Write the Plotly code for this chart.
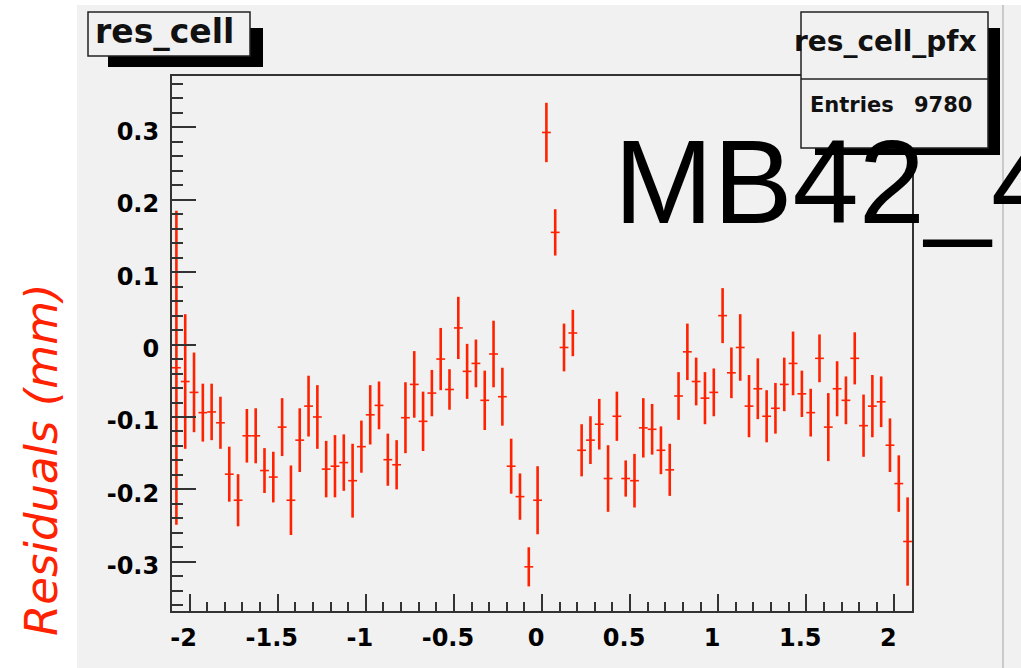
import plotly.graph_objects as go

# ---------------- data ----------------
x_low = -2.1
bin_width = 0.05
n_bins = 84
x_centers = [round(x_low + bin_width * (i + 0.5), 4) for i in range(n_bins)]

residuals = [
    -0.032, -0.051, -0.066, -0.094, -0.093, -0.108, -0.179, -0.215, -0.126, -0.126,
    -0.174, -0.183, -0.114, -0.215, -0.132, -0.085, -0.100, -0.172, -0.168, -0.163,
    -0.188, -0.141, -0.097, -0.084, -0.159, -0.166, -0.101, -0.055, -0.106, -0.067,
    -0.020, -0.062, 0.023, -0.037, -0.026, -0.077, -0.013, -0.072, -0.168, -0.210,
    -0.307, -0.215, 0.293, 0.155, -0.004, 0.016, -0.146, -0.132, -0.110, -0.185,
    -0.099, -0.185, -0.188, -0.115, -0.117, -0.146, -0.173, -0.071, -0.010, -0.051,
    -0.074, -0.066, 0.040, -0.039, -0.004, -0.085, -0.061, -0.099, -0.088, -0.055,
    -0.026, -0.068, -0.094, -0.019, -0.114, -0.061, -0.077, -0.019, -0.112, -0.085,
    -0.079, -0.139, -0.192, -0.272,
]

errors = [
    0.217, 0.093, 0.055, 0.040, 0.039, 0.036, 0.038, 0.036, 0.037, 0.038,
    0.031, 0.035, 0.040, 0.048, 0.044, 0.042, 0.044, 0.039, 0.043, 0.039,
    0.051, 0.036, 0.041, 0.033, 0.036, 0.034, 0.049, 0.046, 0.041, 0.032,
    0.043, 0.028, 0.043, 0.038, 0.033, 0.041, 0.046, 0.040, 0.038, 0.032,
    0.027, 0.047, 0.041, 0.032, 0.033, 0.032, 0.036, 0.033, 0.035, 0.046,
    0.034, 0.025, 0.037, 0.041, 0.035, 0.033, 0.036, 0.033, 0.039, 0.033,
    0.036, 0.033, 0.038, 0.035, 0.046, 0.043, 0.042, 0.036, 0.035, 0.037,
    0.044, 0.032, 0.033, 0.033, 0.047, 0.038, 0.033, 0.036, 0.043, 0.043,
    0.035, 0.037, 0.039, 0.061,
]

x_tick_vals = [-2, -1.5, -1, -0.5, 0, 0.5, 1, 1.5, 2]
x_tick_text = ["-2", "-1.5", "-1", "-0.5", "0", "0.5", "1", "1.5", "2"]
y_tick_vals = [-0.3, -0.2, -0.1, 0, 0.1, 0.2, 0.3]
y_tick_text = ["-0.3", "-0.2", "-0.1", "0", "0.1", "0.2", "0.3"]

hist_title = "res_cell"
stats_title = "res_cell_pfx"
entries_label = "Entries"
entries_value = "9780"
chamber_label = "MB42_4"
y_label = "Residuals (mm)"

# ---------------- layout helpers ----------------
W, H = 1021, 668
ML, MR, MT, MB = 172, 109, 76, 57
PW, PH = W - ML - MR, H - MT - MB


def px(x):
    return (x - ML) / PW


def py(y):
    return 1 - (y - MT) / PH


RED = "#ff2200"
CANVAS = "#f1f1f1"
AX = "#333333"

fig = go.Figure()
fig.add_trace(go.Scatter(
    x=x_centers, y=residuals, mode="markers",
    marker=dict(size=1, color=RED),
    error_y=dict(type="data", array=errors, visible=True, color=RED,
                 thickness=2.6, width=0),
    error_x=dict(type="constant", value=bin_width / 2, visible=True, color=RED,
                 thickness=1.6, width=0),
    showlegend=False, hoverinfo="skip",
))

tickfont = dict(family="DejaVu Sans", size=24, color="black", weight="bold")

fig.update_xaxes(
    range=[-2.1, 2.1], tickmode="array", tickvals=x_tick_vals, ticktext=x_tick_text,
    ticks="inside", ticklen=17, tickwidth=1.5, tickcolor=AX,
    minor=dict(tickmode="linear", tick0=0, dtick=0.1, ticks="inside",
               ticklen=9, tickwidth=1.5, tickcolor=AX),
    showline=True, linecolor=AX, linewidth=2, mirror=True,
    showgrid=False, zeroline=False, tickfont=tickfont,
    ticklabelshift=-6, ticklabelstandoff=4,
)
fig.update_yaxes(
    range=[-0.368, 0.371], tickmode="array", tickvals=y_tick_vals, ticktext=y_tick_text,
    ticks="inside", ticklen=24, tickwidth=1.5, tickcolor=AX,
    minor=dict(tickmode="linear", tick0=0, dtick=0.02, ticks="inside",
               ticklen=11, tickwidth=1.5, tickcolor=AX),
    showline=True, linecolor=AX, linewidth=2, mirror=True,
    showgrid=False, zeroline=False, tickfont=tickfont,
    ticklabelshift=4, ticklabelstandoff=6,
)

shapes = [
    # canvas background
    dict(type="rect", xref="paper", yref="paper", x0=px(77), x1=px(1021),
         y0=py(5), y1=py(668), fillcolor=CANVAS, line=dict(width=0), layer="below"),
    dict(type="line", xref="paper", yref="paper", x0=px(1003), x1=px(1003),
         y0=py(5), y1=py(668), line=dict(color="#bdbdbd", width=1.5), layer="below"),
    # title box with shadow
    dict(type="rect", xref="paper", yref="paper", x0=px(108), x1=px(263),
         y0=py(28), y1=py(67), fillcolor="black", line=dict(width=0), layer="above"),
    dict(type="rect", xref="paper", yref="paper", x0=px(88), x1=px(250),
         y0=py(12), y1=py(56), fillcolor=CANVAS, line=dict(color="#222", width=1.5),
         layer="above"),
    # stats box with shadow
    dict(type="rect", xref="paper", yref="paper", x0=px(815), x1=px(1000),
         y0=py(28), y1=py(155), fillcolor="black", line=dict(width=0), layer="above"),
    dict(type="rect", xref="paper", yref="paper", x0=px(801), x1=px(988),
         y0=py(12), y1=py(148), fillcolor=CANVAS, line=dict(color="#222", width=1.5),
         layer="above"),
    dict(type="line", xref="paper", yref="paper", x0=px(801), x1=px(988),
         y0=py(79), y1=py(79), line=dict(color="#222", width=1.5), layer="above"),
]

bold = lambda s: dict(family="DejaVu Sans", size=s, color="#111", weight="bold")

annotations = [
    dict(text=hist_title, xref="paper", yref="paper", x=px(93), y=py(32),
         xanchor="left", yanchor="middle", showarrow=False, font=bold(33)),
    dict(text=stats_title, xref="paper", yref="paper", x=px(979), y=py(42),
         xanchor="right", yanchor="middle", showarrow=False, font=bold(28)),
    dict(text=entries_label, xref="paper", yref="paper", x=px(808), y=py(105),
         xanchor="left", yanchor="middle", showarrow=False, font=bold(21)),
    dict(text=entries_value, xref="paper", yref="paper", x=px(974), y=py(105),
         xanchor="right", yanchor="middle", showarrow=False, font=bold(21)),
    dict(text=chamber_label, xref="paper", yref="paper", x=px(612), y=py(182),
         xanchor="left", yanchor="middle", showarrow=False,
         font=dict(family="Liberation Sans", size=119, color="black")),
    dict(text=y_label, xref="paper", yref="paper", x=px(42), y=py(460),
         xanchor="center", yanchor="middle", showarrow=False, textangle=-90,
         font=dict(family="DejaVu Sans", size=45, color=RED, style="italic")),
]

fig.update_layout(
    width=W, height=H, autosize=False,
    margin=dict(l=ML, r=MR, t=MT, b=MB, pad=0),
    paper_bgcolor="white", plot_bgcolor="rgba(0,0,0,0)",
    shapes=shapes, annotations=annotations,
)

fig.write_html("out.html")
